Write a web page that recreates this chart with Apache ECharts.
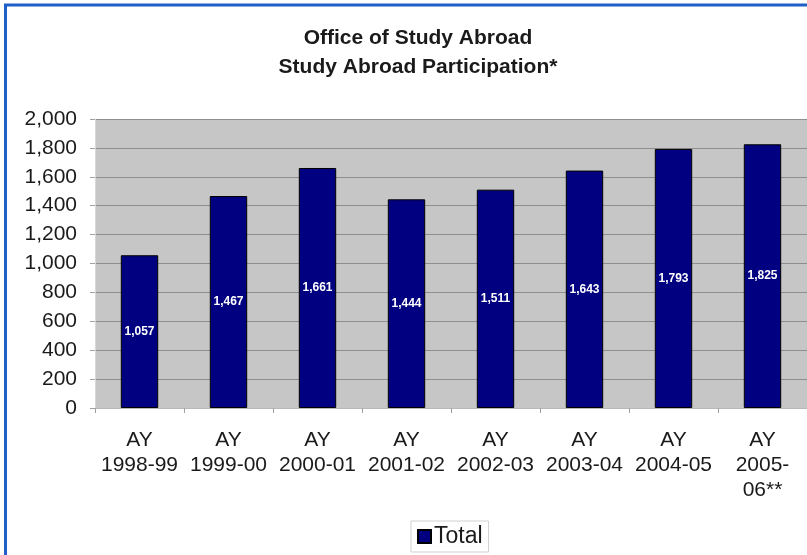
<!DOCTYPE html>
<html>
<head>
<meta charset="utf-8">
<title>Study Abroad Participation</title>
<script src="https://cdn.jsdelivr.net/npm/echarts@6/dist/echarts.min.js"></script>
<style>
  html, body { margin: 0; padding: 0; background: #fff; }
  #chart { width: 807px; height: 555px; }
</style>
</head>
<body>
<div id="chart"></div>
<script>
// academic years and participation totals
const years = ['AY\n1998-99', 'AY\n1999-00', 'AY\n2000-01', 'AY\n2001-02',
               'AY\n2002-03', 'AY\n2003-04', 'AY\n2004-05', 'AY\n2005-\n06**'];
const totals = [1057, 1467, 1661, 1444, 1511, 1643, 1793, 1825];
const yTicks = { min: 0, max: 2000, step: 200 };

const fmt = v => v.toLocaleString('en-US');
const font = '"Liberation Sans", Arial, sans-serif';

const chart = echarts.init(document.getElementById('chart'));

chart.setOption({
  backgroundColor: '#fff',
  animation: false,
  title: {
    text: 'Office of Study Abroad\nStudy Abroad Participation*',
    left: 413,
    top: 19,
    textAlign: 'center',
    textStyle: { fontFamily: font, fontSize: 21, fontWeight: 'bold', color: '#1a1a1a', lineHeight: 29 }
  },
  graphic: [{
    type: 'rect',
    z: -1,
    shape: { x: 5.5, y: 5, width: 900, height: 700 },
    style: { fill: null, stroke: '#1f5fc8', lineWidth: 3 }
  }],
  legend: {
    data: ['Total'],
    left: 411,
    bottom: 3,
    padding: [4, 6],
    itemWidth: 13,
    itemHeight: 13,
    itemGap: 4,
    icon: 'rect',
    borderColor: '#d0d0d0',
    borderWidth: 1,
    textStyle: { fontFamily: font, fontSize: 23, color: '#1a1a1a', padding: [0, 0, 0, -2] }
  },
  grid: { left: 95, right: 0, top: 119, bottom: 147, containLabel: false,
          show: true, backgroundColor: '#c6c6c6', borderWidth: 0 },
  xAxis: {
    type: 'category',
    data: years,
    axisLine: { show: true, lineStyle: { color: '#b8b8b8', width: 1 } },
    axisTick: { show: true, length: 5, lineStyle: { color: '#a0a0a0' } },
    axisLabel: { fontFamily: font, fontSize: 21, color: '#1a1a1a', lineHeight: 25, margin: 20, interval: 0 }
  },
  yAxis: {
    type: 'value',
    min: yTicks.min,
    max: yTicks.max,
    interval: yTicks.step,
    axisLine: { show: true, lineStyle: { color: '#d8d8d8' } },
    axisTick: { show: true, length: 5, lineStyle: { color: '#a0a0a0' } },
    splitLine: { show: true, lineStyle: { color: '#8e8e8e', width: 1 } },
    axisLabel: { fontFamily: font, fontSize: 21, color: '#1a1a1a', margin: 18, formatter: fmt }
  },
  series: [{
    name: 'Total',
    type: 'bar',
    data: totals,
    barWidth: '42%',
    itemStyle: { color: '#000080', borderColor: '#000', borderWidth: 1 },
    label: {
      show: true,
      position: 'inside',
      formatter: p => fmt(p.value),
      fontFamily: font,
      fontSize: 12,
      fontWeight: 'bold',
      color: '#fff'
    }
  }]
});
</script>
</body>
</html>
